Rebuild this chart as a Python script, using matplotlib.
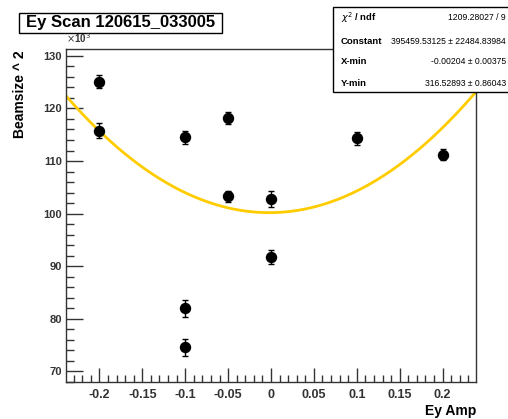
import numpy as np
import matplotlib
matplotlib.use("Agg")
from matplotlib import pyplot as plt
from matplotlib.patches import Rectangle
from matplotlib.ticker import MultipleLocator

plt.rcParams["font.family"] = ["Liberation Sans", "DejaVu Sans"]

# Measured points (y in units of 10^3)
ey_amp = [-0.2, -0.2, -0.1, -0.1, -0.1, -0.05, -0.05, 0.0, 0.0, 0.1, 0.2]
beamsize2 = [125.1, 115.8, 114.5, 82.0, 74.6, 118.2, 103.3, 102.8, 91.7, 114.3, 111.2]
beamsize2_err = [1.2, 1.5, 1.3, 1.6, 1.6, 1.2, 1.1, 1.6, 1.3, 1.3, 1.0]

# Fit parameters shown in the stats box
fit_const = 395459.53125
fit_xmin = -0.00204
fit_ymin = 316.52893

fig = plt.figure(figsize=(5.08, 4.19), dpi=100)
W, H = 508, 419
ax = fig.add_axes([66 / W, (H - 382) / H, 410 / W, 333 / H])

# Fit curve: y = C*(x - x0)^2 + ymin^2
xs = np.linspace(-0.239, 0.239, 300)
ys = (fit_const * (xs - fit_xmin) ** 2 + fit_ymin ** 2) / 1000.0
ax.plot(xs, ys, color="#ffcc00", lw=2, zorder=2)

ax.errorbar(ey_amp, beamsize2, yerr=beamsize2_err, fmt="o", color="black",
            ms=7.2, elinewidth=1, capsize=2.2, capthick=1, zorder=3)

ax.set_xlim(-0.239, 0.239)
ax.set_ylim(68.0, 131.3)

ax.xaxis.set_major_locator(MultipleLocator(0.05))
ax.xaxis.set_minor_locator(MultipleLocator(0.01))
ax.yaxis.set_major_locator(MultipleLocator(10))
ax.yaxis.set_minor_locator(MultipleLocator(2))
ax.set_xticks([-0.2, -0.15, -0.1, -0.05, 0, 0.05, 0.1, 0.15, 0.2])
ax.set_xticklabels(["-0.2", "-0.15", "-0.1", "-0.05", "0", "0.05", "0.1", "0.15", "0.2"])
ax.set_yticks([70, 80, 90, 100, 110, 120, 130])
ax.set_yticklabels(["70", "80", "90", "100", "110", "120", "130"])

ax.tick_params(axis="both", which="both", direction="in", colors="#333333",
               width=1)
ax.tick_params(axis="y", which="major", length=12, pad=3, labelsize=8)
ax.tick_params(axis="y", which="minor", length=6)
ax.tick_params(axis="x", which="major", length=10, pad=5, labelsize=9)
ax.tick_params(axis="x", which="minor", length=5)
for lab in ax.get_xticklabels() + ax.get_yticklabels():
    lab.set_fontweight("bold")
    lab.set_color("#333333")
for sp in ax.spines.values():
    sp.set_color("#333333")
    sp.set_linewidth(1)

fig.text(66 / W, 1 - 45 / H, r"$\times$10$^3$", fontsize=7, fontweight="bold",
         color="#333333", ha="left", va="bottom")

fig.text(20 / W, 1 - 50 / H, "Beamsize ^ 2", rotation=90, fontsize=10,
         fontweight="bold", ha="center", va="top")
fig.text(476 / W, 1 - 411 / H, "Ey Amp", fontsize=10, fontweight="bold",
         ha="right", va="center")

# Title box
fig.patches.append(Rectangle((19 / W, 1 - 33 / H), 203 / W, 20 / H,
                             transform=fig.transFigure, fill=False,
                             edgecolor="black", lw=1))
fig.text(120.5 / W, 1 - 23 / H, "Ey Scan 120615_033005", fontsize=12,
         fontweight="bold", ha="center", va="center")

# Stats box
fig.patches.append(Rectangle((333 / W, 1 - 92 / H), 200 / W, 85 / H,
                             transform=fig.transFigure, facecolor="white",
                             edgecolor="black", lw=1, zorder=5))
stat_names = [r"$\chi^2$ / ndf", "Constant", "X-min", "Y-min"]
stat_vals = ["1209.28027 / 9", "395459.53125 \u00b1 22484.83984",
             "-0.00204 \u00b1 0.00375", "316.52893 \u00b1 0.86043"]
row_y = [18, 41, 62, 83]
for name, val, ry in zip(stat_names, stat_vals, row_y):
    fig.text(341 / W, 1 - ry / H, name, fontsize=6.8, fontweight="bold",
             ha="left", va="center", zorder=6)
    fig.text(506 / W, 1 - ry / H, val, fontsize=6.2, ha="right",
             va="center", zorder=6)

fig.savefig("out.png", dpi=100)
